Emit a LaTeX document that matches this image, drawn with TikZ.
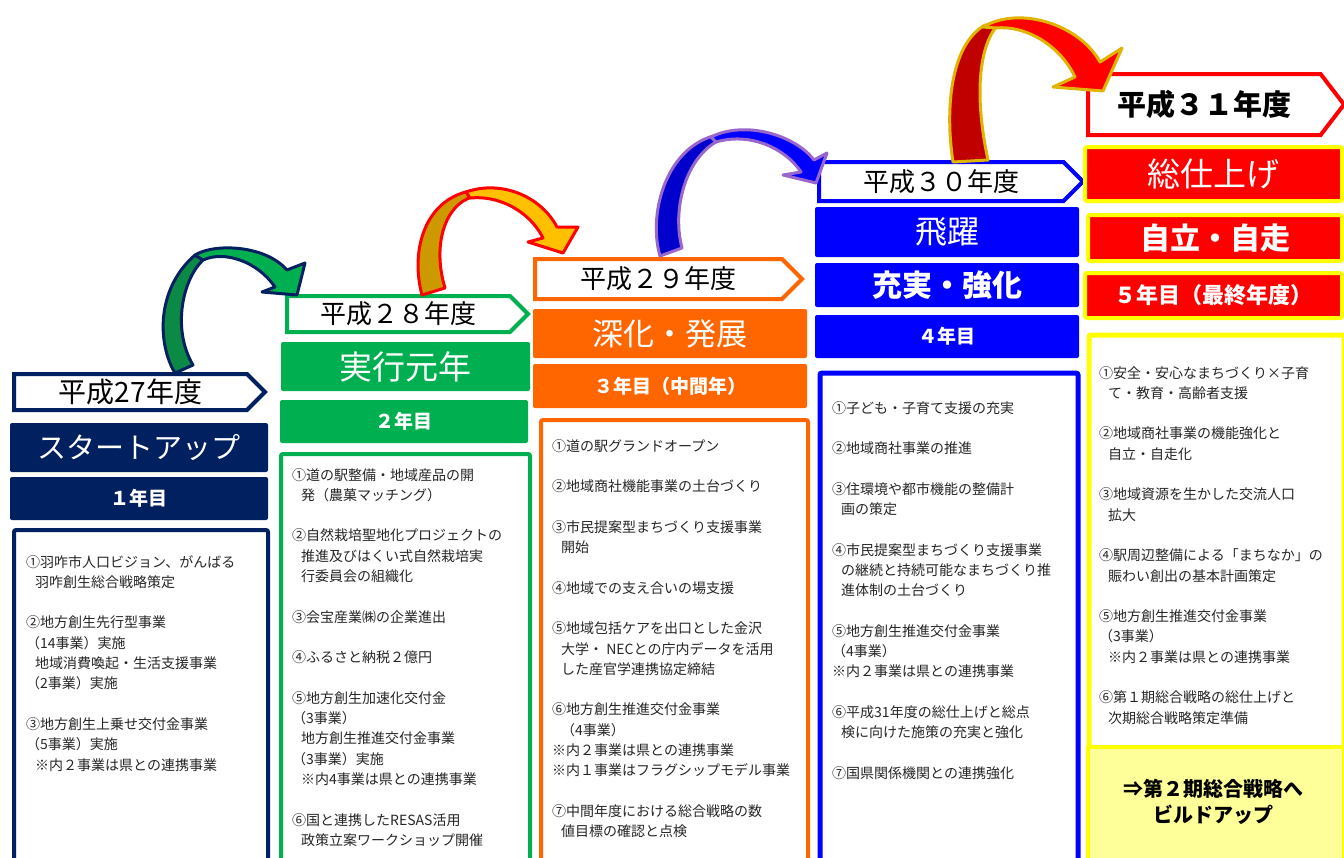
\documentclass[tikz,border=0pt]{standalone}
\usepackage{fontspec}
\setmainfont{Noto Sans CJK JP}
\usetikzlibrary{shapes.symbols}
\definecolor{cNavy}{HTML}{002060}
\definecolor{cGreen}{HTML}{00B050}
\definecolor{cOrange}{HTML}{FF6600}
\definecolor{cBlue}{HTML}{0000FF}
\definecolor{cRed}{HTML}{FF0000}
\definecolor{cYellow}{HTML}{FFFF00}
\definecolor{cPale}{HTML}{FFFF99}
\definecolor{cText}{HTML}{262626}
\definecolor{aGreenDk}{HTML}{0A8A45}
\definecolor{aGold}{HTML}{CC9900}
\definecolor{aAmber}{HTML}{FFC000}
\definecolor{aBlueDk}{HTML}{0000CC}
\definecolor{aPurple}{HTML}{9966CC}
\definecolor{aRedDk}{HTML}{C00000}
\definecolor{aOchre}{HTML}{E0B400}
\newcommand\ind{\hspace*{9pt}}
\tikzset{
  yeartag/.style={signal, signal to=east, signal pointer angle=90, draw=#1, line width=4pt,
    fill=white, inner sep=0pt, text=black, anchor=west, font=\fontsize{26}{26}\selectfont},
  titlebox/.style={rectangle, rounded corners=2pt, fill=#1, text=white, inner sep=0pt,
    font=\fontsize{31}{31}\selectfont},
  yearbox/.style={rectangle, rounded corners=2pt, fill=#1, text=white, inner sep=0pt,
    font=\bfseries\fontsize{19}{19}\selectfont},
  listbox/.style={rectangle, draw=#1, line width=4pt, fill=white, rounded corners=2pt,
    anchor=north west, inner sep=0pt},
  listtext/.style={anchor=north west, align=left, inner sep=0pt, text=cText,
    font=\fontsize{14}{20.3}\selectfont},
  finalbox/.style={titlebox=cRed, draw=cYellow, line width=4pt},
  arcpart/.style={draw=#1, line width=3pt, line join=round},
}
\begin{document}
\begin{tikzpicture}[x=1pt, y=-1pt]
  \useasboundingbox (0,0) rectangle (1344,857);
  \clip (0,0) rectangle (1344,857);
  % --- H27 ---
  \node[yeartag=cNavy, minimum width=251pt, minimum height=36pt, font=\fontsize{28}{28}\selectfont] (t27) at (12,392) {平成27年度};
  \node[titlebox=cNavy, minimum width=258pt, minimum height=49pt, font=\fontsize{29}{29}\selectfont] (s27) at (139,447.5) {スタートアップ};
  \node[yearbox=cNavy, minimum width=258pt, minimum height=43pt] (y27) at (139,498.5) {１年目};
  \node[listbox=cNavy, minimum width=254pt, minimum height=345pt] (b27) at (12,528) {};
  \node[listtext] (l27) at (26,555) {①羽咋市人口ビジョン、がんばる\\
    \ind{}羽咋創生総合戦略策定\\[20.3pt]
    ②地方創生先行型事業\\
    （14事業）実施\\
    \ind{}地域消費喚起・生活支援事業\\
    （2事業）実施\\[20.3pt]
    ③地方創生上乗せ交付金事業\\
    （5事業）実施\\
    \ind{}※内２事業は県との連携事業};
  % --- H28 ---
  \node[yeartag=cGreen, minimum width=241pt, minimum height=36pt] (t28) at (285,314) {平成２８年度};
  \node[titlebox=cGreen, minimum width=249pt, minimum height=49pt, font=\fontsize{33}{33}\selectfont] (s28) at (405.5,366.5) {実行元年};
  \node[yearbox=cGreen, minimum width=248pt, minimum height=43pt] (y28) at (404,421.5) {２年目};
  \node[listbox=cGreen, minimum width=249pt, minimum height=420pt] (b28) at (279,452) {};
  \node[listtext] (l28) at (292,468) {①道の駅整備・地域産品の開\\
    \ind{}発（農菓マッチング）\\[20.3pt]
    ②自然栽培聖地化プロジェクトの\\
    \ind{}推進及びはくい式自然栽培実\\
    \ind{}行委員会の組織化\\[20.3pt]
    ③会宝産業㈱の企業進出\\[20.3pt]
    ④ふるさと納税２億円\\[20.3pt]
    ⑤地方創生加速化交付金\\
    （3事業）\\
    \ind{}地方創生推進交付金事業\\
    （3事業）実施\\
    \ind{}※内4事業は県との連携事業\\[20.3pt]
    ⑥国と連携したRESAS活用\\
    \ind{}政策立案ワークショップ開催};
  % --- H29 ---
  \node[yeartag=cOrange, minimum width=267pt, minimum height=40pt] (t29) at (533,279) {平成２９年度};
  \node[titlebox=cOrange, minimum width=274pt, minimum height=49pt] (s29) at (670,333.5) {深化・発展};
  \node[yearbox=cOrange, minimum width=274pt, minimum height=44pt] (y29) at (670,386) {３年目（中間年）};
  \node[listbox=cOrange, minimum width=267pt, minimum height=455pt] (b29) at (539,418) {};
  \node[listtext] (l29) at (552,439) {①道の駅グランドオープン\\[20.3pt]
    ②地域商社機能事業の土台づくり\\[20.3pt]
    ③市民提案型まちづくり支援事業\\
    \ind{}開始\\[20.3pt]
    ④地域での支え合いの場支援\\[20.3pt]
    ⑤地域包括ケアを出口とした金沢\\
    \ind{}大学・ NECとの庁内データを活用\\
    \ind{}した産官学連携協定締結\\[20.3pt]
    ⑥地方創生推進交付金事業\\
    \ind{}（4事業）\\
    ※内２事業は県との連携事業\\
    ※内１事業はフラグシップモデル事業\\[20.3pt]
    ⑦中間年度における総合戦略の数\\
    \ind{}値目標の確認と点検};
  % --- H30 ---
  \node[yeartag=cBlue, minimum width=264pt, minimum height=39pt] (t30) at (817,181.5) {平成３０年度};
  \node[titlebox=cBlue, minimum width=264pt, minimum height=50pt, font=\fontsize{32}{32}\selectfont] (s30) at (947,232) {飛躍};
  \node[titlebox=cBlue, minimum width=264pt, minimum height=44pt, font=\bfseries\fontsize{30}{30}\selectfont] (k30) at (947,285) {充実・強化};
  \node[yearbox=cBlue, minimum width=264pt, minimum height=43pt] (y30) at (947,336.5) {４年目};
  \node[listbox=cBlue, line width=5pt, minimum width=258pt, minimum height=500pt] (b30) at (817.5,370.5) {};
  \node[listtext] (l30) at (832,401) {①子ども・子育て支援の充実\\[20.3pt]
    ②地域商社事業の推進\\[20.3pt]
    ③住環境や都市機能の整備計\\
    \ind{}画の策定\\[20.3pt]
    ④市民提案型まちづくり支援事業\\
    \ind{}の継続と持続可能なまちづくり推\\
    \ind{}進体制の土台づくり\\[20.3pt]
    ⑤地方創生推進交付金事業\\
    （4事業）\\
    ※内２事業は県との連携事業\\[20.3pt]
    ⑥平成31年度の総仕上げと総点\\
    \ind{}検に向けた施策の充実と強化\\[20.3pt]
    ⑦国県関係機関との連携強化};
  % --- H31 ---
  \node[yeartag=cRed, signal pointer angle=105, minimum width=256pt, minimum height=61pt, font=\bfseries\fontsize{29}{29}\selectfont] (t31) at (1086,104.5) {平成３１年度};
  \node[finalbox, minimum width=257pt, minimum height=54pt, font=\fontsize{33}{33}\selectfont] (s31) at (1213.5,174) {総仕上げ};
  \node[finalbox, minimum width=254pt, minimum height=46pt, font=\bfseries\fontsize{30}{30}\selectfont] (k31) at (1215,238) {自立・自走};
  \node[finalbox, minimum width=257pt, minimum height=45pt, font=\bfseries\fontsize{22}{22}\selectfont] (y31) at (1213.5,295.5) {５年目（最終年度）};
  \node[listbox=cYellow, line width=5pt, minimum width=255pt, minimum height=540pt] (b31) at (1086.5,332.5) {};
  \node[listtext] (l31) at (1099,366) {①安全・安心なまちづくり×子育\\
    \ind{}て・教育・高齢者支援\\[20.3pt]
    ②地域商社事業の機能強化と\\
    \ind{}自立・自走化\\[20.3pt]
    ③地域資源を生かした交流人口\\
    \ind{}拡大\\[20.3pt]
    ④駅周辺整備による「まちなか」の\\
    \ind{}賑わい創出の基本計画策定\\[20.3pt]
    ⑤地方創生推進交付金事業\\
    （3事業）\\
    \ind{}※内２事業は県との連携事業\\[20.3pt]
    ⑥第１期総合戦略の総仕上げと\\
    \ind{}次期総合戦略策定準備};
  \node[rectangle, fill=cPale, draw=cYellow, line width=4pt, anchor=north west, inner sep=0pt,
    minimum width=256pt, minimum height=130pt] (n31) at (1086,745) {};
  \node[align=center, inner sep=0pt, font=\bfseries\fontsize{20}{26}\selectfont] (m31) at (1213,802) {⇒第２期総合戦略へ\\ビルドアップ};
  % --- jump arrows ---
  \filldraw[arcpart=cNavy, fill=aGreenDk] (175,373) .. controls (158,345) and (155,290) .. (195,255)
    -- (203,260) .. controls (182,280) and (172,330) .. (193,365) -- cycle;
  \filldraw[arcpart=cNavy, fill=cGreen] (195,255) .. controls (215,243) and (265,245) .. (287,270)
    -- (305,263) -- (297,295) -- (262,292) -- (275,287)
    .. controls (258,262) and (225,250) .. (203,260) -- cycle;
  \filldraw[arcpart=cRed, fill=aGold] (422,295) .. controls (410,250) and (425,200) .. (470,191)
    -- (472,197) .. controls (445,205) and (432,245) .. (445,288) -- cycle;
  \filldraw[arcpart=cRed, fill=aAmber] (466,192) .. controls (500,180) and (540,195) .. (557,227)
    -- (578,227) -- (563,253) -- (528,242) -- (543,238)
    .. controls (530,212) and (500,195) .. (470,198) -- cycle;
  \filldraw[arcpart=aPurple, fill=aBlueDk] (660,256) .. controls (648,215) and (665,150) .. (713,136)
    -- (716,142) .. controls (685,160) and (672,210) .. (682,248) -- cycle;
  \filldraw[arcpart=aPurple, fill=cBlue] (711,137) .. controls (745,120) and (795,135) .. (814,160)
    -- (827,153) -- (816,183) -- (783,175) -- (801,172)
    .. controls (785,148) and (750,132) .. (716,142) -- cycle;
  \filldraw[arcpart=aOchre, fill=aRedDk] (953,162) .. controls (945,110) and (950,45) .. (985,25)
    -- (996,27) .. controls (978,50) and (975,100) .. (988,160) -- cycle;
  \filldraw[arcpart=aOchre, fill=cRed] (983,27) .. controls (1020,5) and (1080,25) .. (1100,62)
    -- (1122,48) -- (1103,91) -- (1053,87) -- (1075,77)
    .. controls (1060,45) and (1025,25) .. (996,28) -- cycle;
\end{tikzpicture}
\end{document}
